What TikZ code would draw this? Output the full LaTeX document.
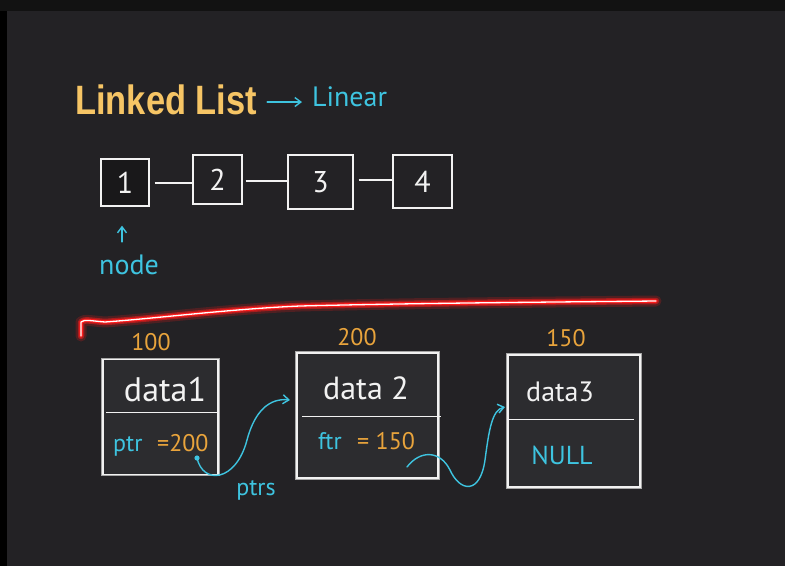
\documentclass[tikz,border=0pt]{standalone}
\usepackage{fontspec}
\setmainfont{Liberation Sans}
\newfontfamily\handfont{PT Sans}
\usetikzlibrary{arrows.meta}
\definecolor{bgc}{HTML}{232225}
\definecolor{topc}{HTML}{121212}
\definecolor{titlec}{HTML}{F6C565}
\definecolor{cyanc}{HTML}{3EC4E0}
\definecolor{orangec}{HTML}{E9A43C}
\definecolor{chalk}{HTML}{F2F2F2}
\definecolor{boxfill}{HTML}{2C2C2F}
\definecolor{glowred}{HTML}{FF1A1A}
\tikzset{
  chalkline/.style={draw=chalk, line width=1.4pt},
  smallbox/.style={chalkline, inner sep=0pt, font=\handfont\fontsize{30}{30}\selectfont, text=chalk},
  bigbox/.style={draw=chalk, line width=1.5pt, fill=boxfill, inner sep=0pt,
     preaction={draw=gray!70, line width=3.5pt}},
  cyanline/.style={draw=cyanc, line width=1.4pt, line cap=round},
  handc/.style={text=cyanc, font=\handfont\fontsize{24}{24}\selectfont, inner sep=0pt},
  hando/.style={text=orangec, font=\handfont\fontsize{24}{24}\selectfont, inner sep=0pt},
  handw/.style={text=chalk, font=\handfont\fontsize{28}{28}\selectfont, inner sep=0pt},
  tip/.style={-{Straight Barb[length=6pt,width=9pt]}}
}
\begin{document}
\begin{tikzpicture}[x=1pt,y=-1pt]
\fill[bgc] (0,0) rectangle (785,566);
\fill[topc] (0,0) rectangle (785,11);
\fill[black] (0,11) rectangle (7,566);
\useasboundingbox (0,0) rectangle (785,566);

% title
\node[anchor=base west, inner sep=0pt, text=titlec, font=\bfseries\fontsize{41}{41}\selectfont] (title) at (75,114) {\scalebox{0.84}[1]{Linked List}};
\node[handc, font=\handfont\fontsize{28}{28}\selectfont, anchor=base west] (linear) at (312,106) {Linear};
\draw[cyanline, tip, shorten <=10pt, shorten >=10pt] (title.east |- 0,102) -- (linear.west |- 0,102);

% top list
\node[smallbox, fill=topc!60!bgc, minimum width=48pt, minimum height=47pt] (n1) at (125,182.5) {1};
\node[smallbox, minimum width=49pt, minimum height=49pt] (n2) at (217.5,179.5) {2};
\node[smallbox, minimum width=65pt, minimum height=54pt] (n3) at (320.5,182) {3};
\node[smallbox, minimum width=59pt, minimum height=53pt] (n4) at (422.5,181.5) {4};
\draw[chalkline, shorten <=5pt] (n1.east |- 0,183) -- (n2.west |- 0,183);
\draw[chalkline, shorten <=3pt] (n2.east |- 0,181) -- (n3.west |- 0,181);
\draw[chalkline, shorten <=5pt] (n3.east |- 0,180) -- (n4.west |- 0,180);
\node[handc, font=\handfont\fontsize{28}{28}\selectfont] (nodelbl) at (129,265) {node};
\draw[cyanline, tip, shorten <=13pt, shorten >=19pt] (nodelbl.north -| 122,0) -- (n1.south -| 122,0);

% red glowing separator
\coordinate (r0) at (81,336);
\coordinate (r1) at (656,301);
\foreach \w/\c/\o in {11/glowred/0.2, 6.5/glowred/0.5, 3.5/glowred/1, 1.3/white/1}{
  \draw[draw=\c, line width=\w pt, opacity=\o, line cap=round, line join=round]
    (r0) -- (81,322) .. controls (84,319) and (92,321) .. (105,322)
    .. controls (160,318) and (230,309) .. (300,306)
    .. controls (420,303) and (560,302) .. (r1);
}

% addresses
\node[hando] (a1) at (151,342) {100};
\node[hando] (a2) at (357,337) {200};
\node[hando] (a3) at (566,338) {150};

% bottom nodes
\node[bigbox, minimum width=115pt, minimum height=115pt] (A) at (160.5,417) {};
\draw[chalkline] ([yshift=-54pt,xshift=4pt]A.north west) -- ([yshift=-54pt]A.north east);
\node[handw, font=\handfont\fontsize{34}{34}\selectfont] (dA) at (165,390) {data1};
\node[handc, anchor=base west] (pA) at (113,451) {ptr};
\node[hando, anchor=base west] (vA) at (157,451) {=200};

\node[bigbox, minimum width=141pt, minimum height=125pt] (B) at (367.5,415.5) {};
\draw[chalkline] ([yshift=-64pt,xshift=6pt]B.north west) -- ([yshift=-64pt,xshift=2pt]B.north east);
\node[handw, font=\handfont\fontsize{32}{32}\selectfont] (dB) at (366,388) {data 2};
\node[handc, anchor=base west] (pB) at (318,449) {ftr};
\node[hando, anchor=base west] (vB) at (357,449) {= 150};

\node[bigbox, minimum width=132pt, minimum height=132pt] (C) at (574,421) {};
\draw[chalkline] ([yshift=-65pt]C.north west) -- ([yshift=-65pt,xshift=-7pt]C.north east);
\node[handw] (dC) at (560,392) {data3};
\node[handc, font=\handfont\fontsize{26}{26}\selectfont] (nC) at (562,455) {NULL};

% pointer arrows
\coordinate (s1) at (197,458);
\coordinate (t1) at (290,400);
\fill[cyanc] (s1) circle (2.6pt);
\draw[cyanline, tip] (s1) .. controls (203,485) and (236,482) .. (247,440)
   .. controls (255,410) and (270,398) .. (t1);
\node[handc] (ptrs) at (256,490) {ptrs};

\coordinate (s2) at (407,467);
\coordinate (t2) at (505,407);
\draw[cyanline, tip] (s2) .. controls (420,450) and (440,450) .. (450,470)
   .. controls (460,492) and (480,495) .. (485,460)
   .. controls (489,430) and (492,410) .. (t2);
\end{tikzpicture}
\end{document}
